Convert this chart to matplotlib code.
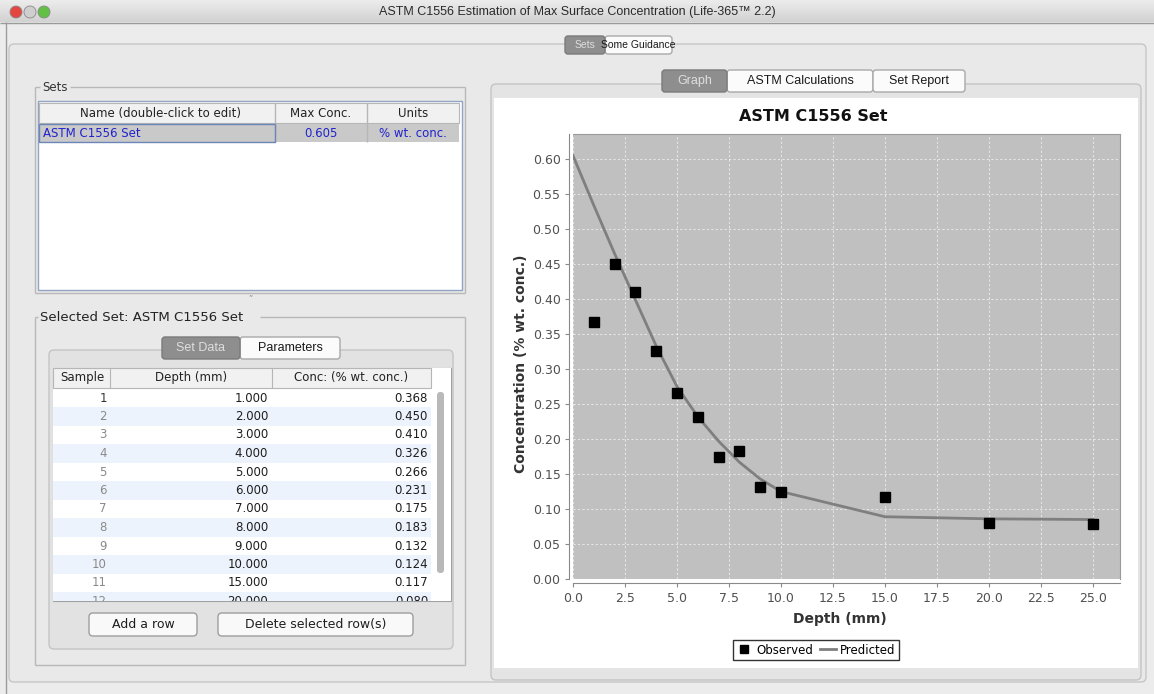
import numpy as np
import matplotlib.pyplot as plt
from matplotlib import font_manager
from matplotlib.patches import Rectangle, FancyBboxPatch, Circle
from matplotlib.colors import LinearSegmentedColormap

# chart data
depth_obs = [1, 2, 3, 4, 5, 6, 7, 8, 9, 10, 15, 20, 25]
conc_obs = [0.368, 0.450, 0.410, 0.326, 0.266, 0.231, 0.175, 0.183, 0.132, 0.124, 0.117, 0.080, 0.079]
depth_pred = [0, 1, 2, 3, 4, 5, 6, 7, 8, 9, 10, 15, 20, 25]
conc_pred = [0.605, 0.534, 0.465, 0.399, 0.333, 0.275, 0.232, 0.197, 0.167, 0.143, 0.125, 0.089, 0.086, 0.085]
x_ticks = [0, 2.5, 5, 7.5, 10, 12.5, 15, 17.5, 20, 22.5, 25]
y_ticks = [0, 0.05, 0.10, 0.15, 0.20, 0.25, 0.30, 0.35, 0.40, 0.45, 0.50, 0.55, 0.60]

set_name = 'ASTM C1556 Set'
max_conc = 0.605
units = '% wt. conc.'
win_title = 'ASTM C1556 Estimation of Max Surface Concentration (Life-365\u2122 2.2)'

W, H = 1154, 694
fig = plt.figure(figsize=(W / 100, H / 100), dpi=100)
fig.patch.set_facecolor('#ececec')
bg = fig.add_axes([0, 0, 1, 1])
bg.axis('off')

UI = 'DejaVu Sans'
installed = {f.name for f in font_manager.fontManager.ttflist}
NARROW = 'Liberation Sans Narrow' if 'Liberation Sans Narrow' in installed else 'Liberation Sans'


def box(x0, y0, x1, y1, fc='none', ec='none', lw=1, r=0, z=1):
    if r:
        p = FancyBboxPatch((x0, y0), x1 - x0, y1 - y0, boxstyle='round,pad=0,rounding_size=%g' % r,
                           fc=fc, ec=ec, lw=lw, zorder=z)
    else:
        p = Rectangle((x0, y0), x1 - x0, y1 - y0, fc=fc, ec=ec, lw=lw, zorder=z)
    bg.add_patch(p)


def line(x0, y0, x1, y1, c='#b8b8b8', lw=1, z=2):
    bg.plot([x0, x1], [y0, y1], color=c, lw=lw, zorder=z, solid_capstyle='butt')


def txt(x, y, s, size=8.5, ha='left', color='#222222', weight='normal', family=UI, z=5, **kw):
    return bg.text(x, y, s, fontsize=size, ha=ha, va='center', color=color, fontweight=weight,
                   family=family, zorder=z, **kw)


def tabs(items, y0, y1, active=0, size=9, family='Liberation Sans'):
    for i, (lab, x0, x1) in enumerate(items):
        if i == active:
            box(x0, y0, x1, y1, fc='#8e8e8e', ec='#7a7a7a', r=3, z=4)
            txt((x0 + x1) / 2, (y0 + y1) / 2, lab, ha='center', color='#dedede', family=family, size=size)
        else:
            box(x0, y0, x1, y1, fc='#fbfbfb', ec='#a9a9a9', r=3, z=3)
            txt((x0 + x1) / 2, (y0 + y1) / 2, lab, ha='center', color='#1a1a1a', family=family, size=size)


# window chrome
grad = LinearSegmentedColormap.from_list('tb', ['#ececec', '#d2d2d2'])
bg.imshow(np.linspace(0, 1, 30)[:, None], extent=(0, W, 22, 0), cmap=grad, aspect='auto', zorder=1)
line(0, 22.5, W, 22.5, c='#9a9a9a')
line(6, 22, 6, H, c='#9c9c9c')
for cx, c in [(16, '#e4463f'), (30, '#cfcfcf'), (44, '#62c045')]:
    bg.add_patch(Circle((cx, 12), 6, fc=c, ec='#888888', lw=0.6, zorder=3))
txt(577, 12, win_title, ha='center', family='Liberation Sans', size=9, color='#2a2a2a')

# outer "Sets" tab panel
box(9, 44, 1146, 682, fc='#e9e9e9', ec='#c6c6c6', r=5, z=1)
tabs([('Sets', 565, 605), ('Some Guidance', 605, 672)], 36, 54, size=8.5 if NARROW != 'Liberation Sans' else 7.5,
     family=NARROW)

# "Sets" group with table
line(35, 87, 40, 87)
line(70, 87, 465, 87)
line(35, 87, 35, 293)
line(465, 87, 465, 293)
line(35, 293, 465, 293)
txt(42, 87, 'Sets', size=8.5, color='#333333')
box(38, 101, 462, 290, fc='white', ec='#90a4c4', z=2)
box(39, 103, 459, 123, fc='#f1f1f1', ec='#b6b6b6', lw=0.8, z=3)
line(275, 103, 275, 142, c='#b6b6b6', z=4)
line(367, 103, 367, 142, c='#b6b6b6', z=4)
txt(160, 113, 'Name (double-click to edit)', ha='center')
txt(321, 113, 'Max Conc.', ha='center')
txt(413, 113, 'Units', ha='center')
box(39, 124, 459, 142, fc='#c9c9c9', z=3)
box(39, 124, 275, 142, fc='none', ec='#6d86b8', lw=1, z=4)
txt(43, 133, set_name, color='#2222cc')
txt(321, 133, '%.3f' % max_conc, ha='center', color='#2222cc')
txt(413, 133, units, ha='center', color='#2222cc')
txt(250, 300, '\u02dc', size=6, ha='center', color='#888888')

# "Selected Set" group
line(35, 317, 38, 317)
line(260, 317, 465, 317)
line(35, 317, 35, 665)
line(465, 317, 465, 665)
line(35, 665, 465, 665)
txt(40, 317, 'Selected Set: ' + set_name, size=9.5, color='#222222')
box(49, 350, 453, 649, fc='#e2e2e2', ec='#c4c4c4', r=5, z=1.5)
tabs([('Set Data', 162, 240), ('Parameters', 240, 340)], 337, 359)

# data table in its own clipped axes
tb = fig.add_axes([53 / W, 1 - 601 / H, (451 - 53) / W, (601 - 368) / H])
tb.set_xlim(53, 451)
tb.set_ylim(601, 368)
tb.axis('off')
tb.add_patch(Rectangle((53, 368), 398, 233, fc='white', ec='none', zorder=0))
row_h = 18.5
for i, (d, c) in enumerate(zip(depth_obs, conc_obs)):
    yc = 398 + i * row_h
    if yc - row_h / 2 > 601:
        break  # row scrolled out of view
    if i % 2 == 1:
        tb.add_patch(Rectangle((53, yc - row_h / 2), 378, row_h, fc='#edf3fd', ec='none', zorder=1))
    tb.text(107, yc, str(i + 1), ha='right', va='center', fontsize=8.5, family=UI,
            color='#333333' if i == 0 else '#8a8a8a', zorder=3, clip_on=True)
    tb.text(268, yc, '%.3f' % d, ha='right', va='center', fontsize=8.5, family=UI, color='#1e1e1e', zorder=3, clip_on=True)
    tb.text(428, yc, '%.3f' % c, ha='right', va='center', fontsize=8.5, family=UI, color='#1e1e1e', zorder=3, clip_on=True)
tb.add_patch(Rectangle((53, 368), 378, 20, fc='#f1f1f1', ec='#b6b6b6', lw=0.8, zorder=4))
for xs in (110, 272):
    tb.plot([xs, xs], [368, 388], color='#b6b6b6', lw=0.8, zorder=5)
tb.text(82, 378, 'Sample', ha='center', va='center', fontsize=8.5, family=UI, color='#222222', zorder=6)
tb.text(191, 378, 'Depth (mm)', ha='center', va='center', fontsize=8.5, family=UI, color='#222222', zorder=6)
tb.text(351, 378, 'Conc: (% wt. conc.)', ha='center', va='center', fontsize=8.5, family=UI, color='#222222', zorder=6)
tb.add_patch(FancyBboxPatch((437, 392), 7, 181, boxstyle='round,pad=0,rounding_size=3',
                            fc='#b9b9b9', ec='none', zorder=6))
box(53, 368, 451, 601, fc='none', ec='#a0a0a0', lw=0.8, z=8)

# buttons
for lab, x0, x1 in [('Add a row', 89, 197), ('Delete selected row(s)', 218, 413)]:
    box(x0, 613, x1, 636, fc='#f9f9f9', ec='#9e9e9e', r=4, z=3)
    txt((x0 + x1) / 2, 624.5, lab, ha='center', size=9, color='#1e1e1e')

# right panel
box(491, 84, 1141, 680, fc='#e4e4e4', ec='#c4c4c4', r=5, z=1.5)
box(494, 98, 1138, 668, fc='white', z=2)
tabs([('Graph', 662, 727), ('ASTM Calculations', 727, 873), ('Set Report', 873, 965)], 70, 92)
txt(813, 116, set_name, ha='center', size=11.5, weight='bold', color='#111111')

# the chart itself
ax = fig.add_axes([573 / W, 1 - 579 / H, (1120 - 573) / W, (579 - 134) / H])
ax.set_facecolor('#c0c0c0')
ax.plot(depth_pred, conc_pred, color='#7f7f7f', lw=2, label='Predicted', zorder=3)
ax.plot(depth_obs, conc_obs, 's', color='black', ms=7, label='Observed', zorder=4)
ax.set_xlim(0, 26.3)
ax.set_ylim(0, 0.636)
ax.set_xticks(x_ticks)
ax.set_yticks(y_ticks)
ax.set_xticklabels(['%.1f' % v for v in x_ticks])
ax.set_yticklabels(['%.2f' % v for v in y_ticks])
ax.grid(True, color='white', ls=(0, (2, 2)), lw=0.8, alpha=0.6)
ax.set_axisbelow(True)
for s in ('left', 'bottom'):
    ax.spines[s].set_position(('outward', 3))
    ax.spines[s].set_color('#8a8a8a')
for s in ('top', 'right'):
    ax.spines[s].set_color('#9a9a9a')
ax.tick_params(length=3, width=0.8, color='#8a8a8a', labelsize=9, labelcolor='#505050', pad=3)
for t in ax.get_xticklabels() + ax.get_yticklabels():
    t.set_family(UI)
ax.set_xlabel('Depth (mm)', fontsize=10, fontweight='bold', color='#333333')
ax.xaxis.set_label_coords(0.488, -0.074)
ax.set_ylabel('Concentration (% wt. conc.)', fontsize=10, fontweight='bold', color='#333333', va='center')
ax.yaxis.set_label_coords(-0.095, 0.483)

h, l = ax.get_legend_handles_labels()
leg = fig.legend(h[::-1], l[::-1], loc='center', bbox_to_anchor=(816 / W, 1 - 650 / H), ncol=2,
                 fontsize=8.5, frameon=True, fancybox=False, edgecolor='black', handlelength=1.3,
                 handletextpad=0.4, columnspacing=0.6, borderpad=0.3, markerscale=0.8)
leg.get_frame().set_linewidth(1)

bg.set_xlim(0, W)
bg.set_ylim(H, 0)
fig.savefig('out.png', dpi=100, facecolor=fig.get_facecolor())
